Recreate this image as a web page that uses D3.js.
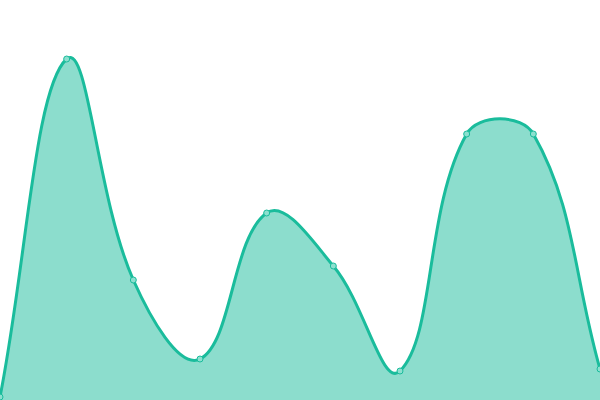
<!DOCTYPE html>
<html>
<head>
<meta charset="utf-8">
<script src="https://cdn.jsdelivr.net/npm/d3@7"></script>
<style>
  body { margin: 0; background: #fff; }
  svg { display: block; }
</style>
</head>
<body>
<div id="chart"></div>
<script>
var width = 600;
var height = 400;

// values (0 = bottom edge)
var xIndex = [0, 1, 2, 3, 4, 5, 6, 7, 8, 9];
var values = [3, 341, 120, 41, 187, 134, 29, 266, 266, 31];

var tension = 0.4;

var xScale = d3.scaleLinear()
    .domain([0, xIndex.length - 1])
    .range([0, width]);
var yScale = d3.scaleLinear()
    .domain([0, 400])
    .range([height, 0]);

var pts = xIndex.map(function(d, i) {
    return { x: xScale(d), y: yScale(values[i]) };
});

// distance weighted spline control points
pts.forEach(function(p, i) {
    var prev = pts[i - 1] || p;
    var next = pts[i + 1] || p;
    var d01 = Math.hypot(p.x - prev.x, p.y - prev.y);
    var d12 = Math.hypot(next.x - p.x, next.y - p.y);
    var s01 = d01 / (d01 + d12) || 0;
    var s12 = d12 / (d01 + d12) || 0;
    var fa = tension * s01, fb = tension * s12;
    p.cpx0 = Math.max(0, Math.min(width, p.x - fa * (next.x - prev.x)));
    p.cpy0 = Math.max(0, Math.min(height, p.y - fa * (next.y - prev.y)));
    p.cpx1 = Math.max(0, Math.min(width, p.x + fb * (next.x - prev.x)));
    p.cpy1 = Math.max(0, Math.min(height, p.y + fb * (next.y - prev.y)));
});

function splinePath(ctx) {
    ctx.moveTo(pts[0].x, pts[0].y);
    for (var i = 1; i < pts.length; i++) {
        var a = pts[i - 1], b = pts[i];
        ctx.bezierCurveTo(a.cpx1, a.cpy1, b.cpx0, b.cpy0, b.x, b.y);
    }
    return ctx;
}

var svg = d3.select("#chart").append("svg")
    .attr("width", width)
    .attr("height", height);

var areaPath = splinePath(d3.path());
areaPath.lineTo(pts[pts.length - 1].x, height);
areaPath.lineTo(pts[0].x, height);
areaPath.closePath();

svg.append("path")
    .attr("d", areaPath.toString())
    .attr("fill", "#1abc9c")
    .attr("fill-opacity", 0.5);

svg.append("path")
    .attr("d", splinePath(d3.path()).toString())
    .attr("fill", "none")
    .attr("stroke", "#1abc9c")
    .attr("stroke-width", 3);

svg.selectAll("circle")
    .data(pts)
    .enter()
    .append("circle")
    .attr("cx", function(d) { return d.x; })
    .attr("cy", function(d) { return d.y; })
    .attr("r", 3)
    .attr("fill", "#8ce0cf")
    .attr("stroke", "#1abc9c")
    .attr("stroke-width", 1);
</script>
</body>
</html>
